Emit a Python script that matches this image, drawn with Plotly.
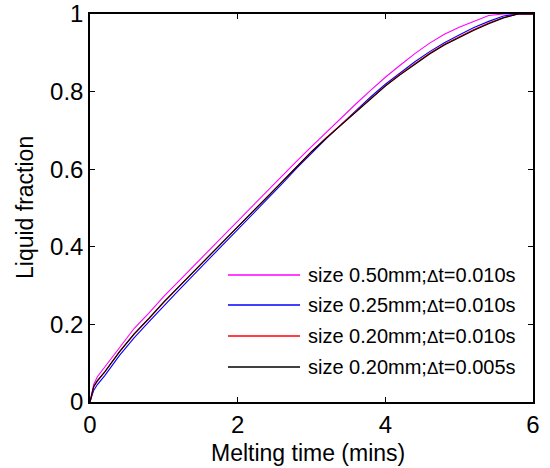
import plotly.graph_objects as go

# Melting time (mins) sample points
time_min = [0, 0.05, 0.1, 0.2, 0.4, 0.6, 0.8, 1.0, 1.2, 1.4, 1.6, 1.8, 2.0, 2.2, 2.4,
            2.6, 2.8, 3.0, 3.2, 3.4, 3.6, 3.8, 4.0, 4.2, 4.4, 4.6, 4.8, 5.0, 5.2,
            5.4, 5.6, 5.8, 6.0]

# Liquid fraction for each mesh size / time step
lf_050_010 = [0, 0.045, 0.065, 0.090, 0.143, 0.190, 0.230, 0.272, 0.311, 0.350, 0.389,
              0.427, 0.466, 0.504, 0.543, 0.582, 0.621, 0.658, 0.695, 0.731, 0.768,
              0.803, 0.837, 0.868, 0.898, 0.925, 0.948, 0.966, 0.982, 0.996, 1.0,
              1.0, 1.0]
lf_025_010 = [0, 0.030, 0.045, 0.068, 0.120, 0.166, 0.207, 0.248, 0.288, 0.327, 0.366,
              0.405, 0.444, 0.483, 0.522, 0.562, 0.603, 0.642, 0.679, 0.715, 0.751,
              0.786, 0.819, 0.849, 0.877, 0.903, 0.926, 0.946, 0.965, 0.981, 0.995,
              1.0, 1.0]
lf_020_010 = [0, 0.038, 0.054, 0.077, 0.129, 0.175, 0.215, 0.257, 0.296, 0.335, 0.373,
              0.412, 0.451, 0.490, 0.528, 0.567, 0.607, 0.645, 0.681, 0.715, 0.749,
              0.783, 0.815, 0.845, 0.873, 0.899, 0.922, 0.942, 0.960, 0.977, 0.991,
              1.0, 1.0]
lf_020_005 = [0, 0.040, 0.055, 0.078, 0.130, 0.176, 0.216, 0.258, 0.297, 0.336, 0.374,
              0.413, 0.452, 0.490, 0.528, 0.567, 0.607, 0.645, 0.680, 0.714, 0.748,
              0.782, 0.814, 0.843, 0.871, 0.897, 0.920, 0.940, 0.958, 0.975, 0.990,
              1.0, 1.0]

series_names = ["size 0.50mm;Δt=0.010s", "size 0.25mm;Δt=0.010s",
                "size 0.20mm;Δt=0.010s", "size 0.20mm;Δt=0.005s"]
series_values = [lf_050_010, lf_025_010, lf_020_010, lf_020_005]
series_colors = ["#ff00ff", "#0000ff", "#ff0000", "#000000"]

x_ticks = [0, 2, 4, 6]
y_ticks = [0, 0.2, 0.4, 0.6, 0.8, 1]
y_tick_text = ["0", "0.2", "0.4", "0.6", "0.8", "1"]

FONT = "Liberation Sans, Arial, Helvetica, sans-serif"

fig = go.Figure()
for name, vals, col in zip(series_names, series_values, series_colors):
    fig.add_trace(go.Scatter(x=time_min, y=vals, mode="lines", name=name,
                             line=dict(color=col, width=1.1), showlegend=False))

# Pixel helpers for placing paper-referenced items
W, H = 550, 468
L, R, T, B = 90, 17, 14, 66
pw, ph = W - L - R, H - T - B
def px(x):
    return (x - L) / pw
def py(y):
    return 1 - (y - T) / ph

# Hand-built legend in the lower right corner (long sample lines)
row_y = [275, 305, 336, 367]
for yy, name, col in zip(row_y, series_names, series_colors):
    fig.add_shape(type="line", xref="paper", yref="paper",
                  x0=px(228), x1=px(300), y0=py(yy), y1=py(yy),
                  line=dict(color=col, width=1.3))
    label = name.replace("Δ", "<span style='font-size:17px'>Δ</span>")
    fig.add_annotation(xref="paper", yref="paper", x=px(306), y=py(yy),
                       text=label, showarrow=False, xanchor="left", yanchor="middle",
                       font=dict(family=FONT, size=20, color="#000000"))

# Axis titles
fig.add_annotation(xref="paper", yref="paper", x=px(308), y=py(453),
                   text="Melting time (mins)", showarrow=False,
                   xanchor="center", yanchor="middle",
                   font=dict(family=FONT, size=23, color="#000000"))
fig.add_annotation(xref="paper", yref="paper", x=px(25), y=py(208),
                   text="Liquid fraction", showarrow=False, textangle=-90,
                   xanchor="center", yanchor="middle",
                   font=dict(family=FONT, size=23, color="#000000"))

axis_common = dict(showgrid=False, zeroline=False, showline=True, linecolor="#000000",
                   linewidth=1.5, mirror="ticks", ticks="inside", ticklen=5,
                   tickwidth=1, tickcolor="#000000", automargin=False,
                   tickfont=dict(family=FONT, size=24, color="#000000"))

fig.update_xaxes(range=[0, 6], tickvals=x_ticks, ticktext=[str(v) for v in x_ticks],
                 **axis_common)
fig.update_yaxes(range=[0, 1], tickvals=y_ticks, ticktext=y_tick_text,
                 **axis_common)

fig.update_layout(width=W, height=H, margin=dict(l=L, r=R, t=T, b=B),
                  plot_bgcolor="#ffffff", paper_bgcolor="#ffffff",
                  font=dict(family=FONT, color="#000000"))

fig.write_html("out.html")
